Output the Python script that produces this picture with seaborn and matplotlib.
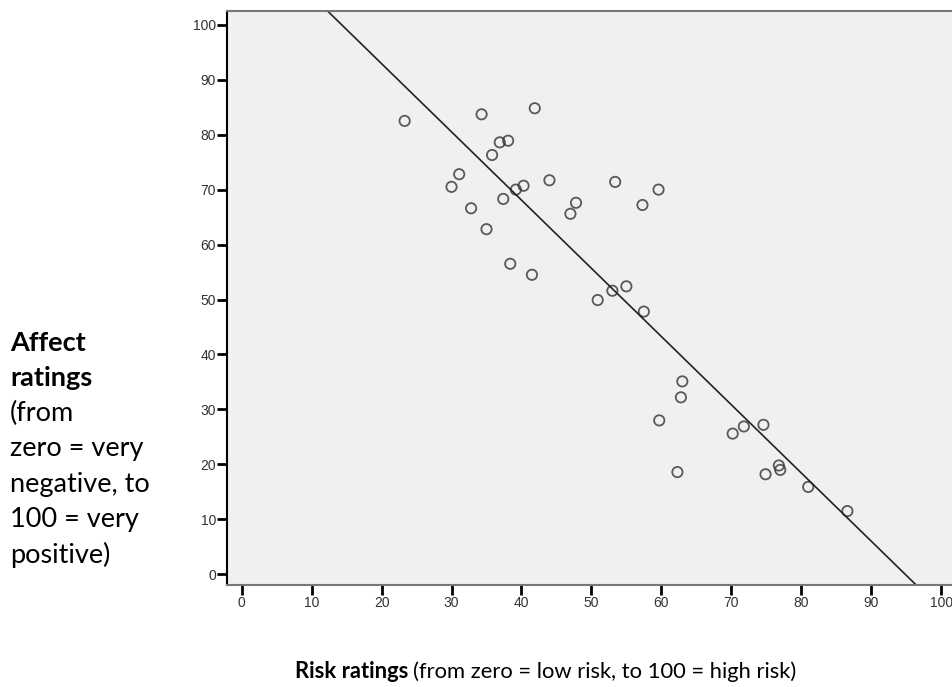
import matplotlib
matplotlib.use("Agg")
import matplotlib.pyplot as plt
import seaborn as sns
import pandas as pd

risk = [23.3, 34.3, 41.9, 36.9, 38.1, 35.8, 31.1, 30.0, 39.2, 40.3, 44.0, 53.4,
        59.6, 37.4, 32.8, 47.8, 47.0, 57.3, 35.0, 38.4, 41.5, 55.0, 53.0, 50.9,
        57.5, 63.0, 62.8, 59.7, 70.2, 71.8, 74.6, 62.3, 74.9, 76.8, 77.0, 81.0, 86.6]
affect = [82.5, 83.7, 84.8, 78.6, 78.9, 76.3, 72.8, 70.5, 70.0, 70.7, 71.7, 71.4,
          70.0, 68.3, 66.6, 67.6, 65.6, 67.2, 62.8, 56.5, 54.5, 52.4, 51.6, 49.9,
          47.8, 35.1, 32.2, 28.0, 25.6, 26.9, 27.2, 18.6, 18.2, 19.8, 19.0, 15.9, 11.5]
ticks = [0, 10, 20, 30, 40, 50, 60, 70, 80, 90, 100]

df = pd.DataFrame({"risk": risk, "affect": affect})

sns.set_style("white")
fig = plt.figure(figsize=(9.53, 6.87), dpi=100)
ax = fig.add_axes([227/953, 1-585/687, (953-227)/953, (585-11)/687])
ax.set_facecolor("#f0f0f0")
ax.set_xlim(-2.1, 101.7)
ax.set_ylim(-1.95, 102.5)
ax.set_autoscale_on(False)

sns.regplot(data=df, x="risk", y="affect", ax=ax, ci=None, truncate=False,
            scatter_kws=dict(s=55, facecolors="none", edgecolors="#333333", linewidths=1.3),
            line_kws=dict(color="#222222", lw=1.2))

ax.set_xlim(-2.1, 101.7)
ax.set_ylim(-1.95, 102.5)
ax.set_xticks(ticks)
ax.set_yticks(ticks)
ax.set_xticklabels([str(t) for t in ticks], family="Liberation Sans", fontsize=10, color="#333333")
ax.set_yticklabels([str(t) for t in ticks], family="Liberation Sans", fontsize=10, color="#333333")
ax.tick_params(axis="both", direction="out", length=7, width=2, color="black", pad=1)
ax.tick_params(axis="both", which="both", left=True, bottom=True)
ax.set_xlabel("")
ax.set_ylabel("")
for s in ["top", "bottom"]:
    ax.spines[s].set_color("#777777")
    ax.spines[s].set_linewidth(1.5)
ax.spines["left"].set_color("black")
ax.spines["left"].set_linewidth(1.5)
ax.spines["right"].set_visible(False)

fam = ["Lato", "DejaVu Sans"]
lines = [("Affect", "bold"), ("ratings", "bold"), ("(from", "normal"),
         ("zero = very", "normal"), ("negative, to", "normal"),
         ("100 = very", "normal"), ("positive)", "normal")]
y0 = 343
for i, (t, w) in enumerate(lines):
    fig.text(10/953, 1-(y0 + i*35.3)/687, t, ha="left", va="center",
             fontsize=19.5, fontweight=w, family=fam, color="black")

t1 = fig.text(295/953, 1-672/687, "Risk ratings", ha="left", va="center",
              fontsize=15.8, fontweight="bold", family=fam, color="black")
fig.canvas.draw()
bb = t1.get_window_extent()
fig.text(bb.x1/953 + 5/953, 1-672/687, "(from zero = low risk, to 100 = high risk)",
         ha="left", va="center", fontsize=15.8, family=fam, color="black")

fig.savefig("out.png", dpi=100)
